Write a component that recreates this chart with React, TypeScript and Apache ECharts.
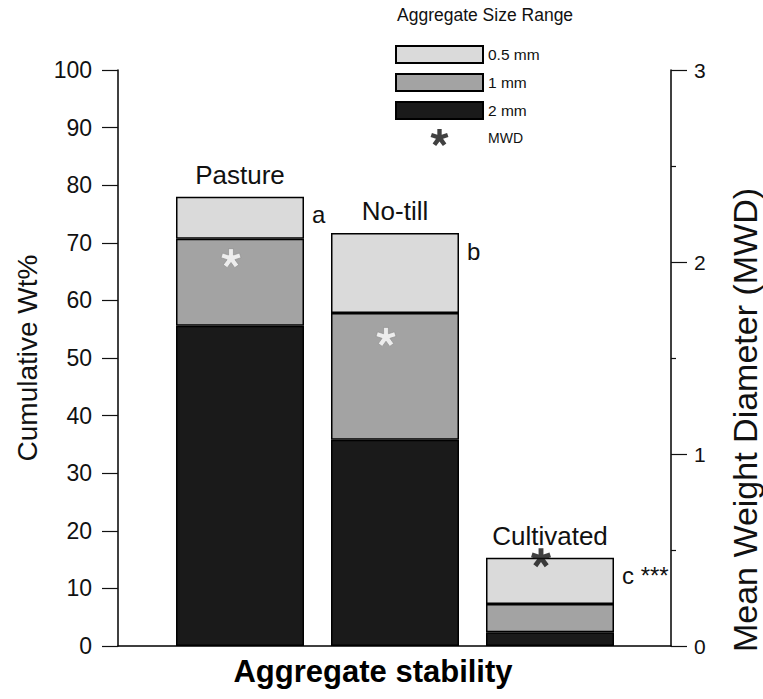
import React, { useEffect, useRef } from "react";
import * as echarts from "echarts";

// ---- data ----
const categories = ["Pasture", "No-till", "Cultivated"];
const sigLetters = ["a", "b", "c ***"];
const size2mm = [55.6, 35.8, 2.4];
const size1mm = [15.1, 22.0, 4.9];
const size05mm = [7.3, 13.9, 8.0];
const mwd = [2.02, 1.61, 0.46];
const legendNames = ["0.5 mm", "1 mm", "2 mm", "MWD"];
const leftAxisRange = { min: 0, max: 100, interval: 10 };
const rightAxisRange = { min: 0, max: 3, interval: 1 };

const SANS = "'Liberation Sans', Arial, Helvetica, sans-serif";

function asteriskPath(): string {
  const R = 10;
  const h = 2.5;
  const rin = h / Math.sin(Math.PI / 5);
  const pts: string[] = [];
  for (let k = 0; k < 5; k++) {
    const t = -Math.PI / 2 + (k * 2 * Math.PI) / 5;
    const ti = t - Math.PI / 5;
    pts.push(`${(rin * Math.cos(ti)).toFixed(3)} ${(rin * Math.sin(ti)).toFixed(3)}`);
    const ux = Math.cos(t), uy = Math.sin(t);
    const nx = -Math.sin(t), ny = Math.cos(t);
    pts.push(`${(R * ux - h * nx).toFixed(3)} ${(R * uy - h * ny).toFixed(3)}`);
    pts.push(`${(R * ux + h * nx).toFixed(3)} ${(R * uy + h * ny).toFixed(3)}`);
  }
  return "path://M" + pts.join(" L") + " Z";
}

export default function App() {
  const ref = useRef<HTMLDivElement>(null);
  useEffect(() => {
    if (!ref.current) return;
    const chart = echarts.init(ref.current, undefined, { renderer: "svg" });
    const star = asteriskPath();
    const border = { borderColor: "#000", borderWidth: 1.5 };
    const axisLine = { show: true, lineStyle: { color: "#000", width: 1.5 } };
    const tickStyle = { color: "#111", width: 1.2 };

    chart.setOption({
      animation: false,
      backgroundColor: "#fff",
      title: {
        text: "Aggregate Size Range",
        left: 397,
        top: 6,
        padding: 0,
        textStyle: { fontFamily: SANS, fontSize: 17.5, fontWeight: "normal", color: "#111" },
      },
      legend: {
        data: [
          { name: legendNames[0], icon: "rect" },
          { name: legendNames[1], icon: "rect" },
          { name: legendNames[2], icon: "rect" },
          { name: legendNames[3], textStyle: { fontSize: 14 } },
        ],
        orient: "vertical",
        left: 395,
        top: 45,
        padding: 0,
        itemWidth: 87,
        itemHeight: 17,
        itemGap: 9,
        textStyle: { fontFamily: SANS, fontSize: 15.5, color: "#111" },
      },
      grid: [
        { left: 118, right: 92, top: 70, bottom: 53 },
        { left: 162.5, right: 135.5, top: 70, bottom: 53 },
      ],
      xAxis: [
        {
          type: "value",
          gridIndex: 0,
          min: 0,
          max: 1,
          axisLine,
          axisTick: { show: false },
          axisLabel: { show: false },
          splitLine: { show: false },
          name: "Aggregate stability",
          nameLocation: "middle",
          nameGap: 10,
          nameTextStyle: {
            fontFamily: SANS,
            fontSize: 31,
            fontWeight: "bold",
            color: "#000",
            padding: [0, 43, 0, 0],
          },
        },
        {
          type: "category",
          gridIndex: 1,
          data: categories,
          show: false,
        },
      ],
      yAxis: [
        {
          type: "value",
          gridIndex: 0,
          position: "left",
          ...leftAxisRange,
          axisLine,
          axisTick: { show: true, length: 16, lineStyle: tickStyle },
          axisLabel: { margin: 26, fontFamily: SANS, fontSize: 23, color: "#111" },
          splitLine: { show: false },
          name: "Cumulative Wt%",
          nameLocation: "middle",
          nameGap: 77,
          nameTextStyle: { fontFamily: SANS, fontSize: 28, color: "#111" },
        },
        {
          type: "value",
          gridIndex: 0,
          position: "right",
          ...rightAxisRange,
          axisLine,
          axisTick: { show: true, length: 16, lineStyle: tickStyle },
          minorTick: { show: true, splitNumber: 2, length: 5, lineStyle: tickStyle },
          axisLabel: { margin: 23, fontFamily: SANS, fontSize: 21, color: "#111" },
          splitLine: { show: false },
        },
        { type: "value", gridIndex: 1, ...leftAxisRange, show: false, splitLine: { show: false } },
        { type: "value", gridIndex: 1, ...rightAxisRange, show: false, splitLine: { show: false } },
      ],
      graphic: [
        {
          type: "text",
          x: 745,
          y: 420,
          rotation: Math.PI / 2,
          style: {
            text: "Mean Weight Diameter (MWD)",
            fontFamily: SANS,
            fontSize: 34,
            fill: "#111",
            align: "center",
            verticalAlign: "middle",
          },
        },
      ],
      series: [
        {
          name: "2 mm",
          type: "bar",
          xAxisIndex: 1,
          yAxisIndex: 2,
          stack: "agg",
          barWidth: 128,
          data: size2mm,
          itemStyle: { color: "#1a1a1a", ...border },
        },
        {
          name: "1 mm",
          type: "bar",
          xAxisIndex: 1,
          yAxisIndex: 2,
          stack: "agg",
          barWidth: 128,
          data: size1mm,
          itemStyle: { color: "#a3a3a3", ...border },
        },
        {
          name: "0.5 mm",
          type: "bar",
          xAxisIndex: 1,
          yAxisIndex: 2,
          stack: "agg",
          barWidth: 128,
          data: size05mm,
          itemStyle: { color: "#dadada", ...border },
          label: {
            show: true,
            position: "top",
            distance: 9,
            formatter: (p: any) => categories[p.dataIndex],
            fontFamily: SANS,
            fontSize: 26,
            color: "#111",
          },
        },
        {
          name: "sig",
          type: "bar",
          xAxisIndex: 1,
          yAxisIndex: 2,
          stack: "agg",
          barWidth: 128,
          data: categories.map(() => 0),
          itemStyle: { color: "transparent", borderWidth: 0 },
          label: {
            show: true,
            position: "right",
            offset: [3, 18],
            formatter: (p: any) => sigLetters[p.dataIndex],
            fontFamily: SANS,
            fontSize: 24,
            color: "#111",
          },
        },
        {
          name: "MWD",
          type: "scatter",
          xAxisIndex: 1,
          yAxisIndex: 3,
          z: 5,
          symbol: star,
          symbolSize: [20, 19],
          symbolOffset: [-9, 0],
          itemStyle: { color: "#111" },
          data: mwd.map((v, i) =>
            i < 2
              ? { value: v, itemStyle: { color: "#fff", borderColor: "#8a8a8a", borderWidth: 0.8 } }
              : { value: v }
          ),
        },
      ],
    });
    return () => chart.dispose();
  }, []);
  return (
    <div
      ref={ref}
      style={{ position: "fixed", left: 0, top: 0, width: 763, height: 699, background: "#fff" }}
    />
  );
}
